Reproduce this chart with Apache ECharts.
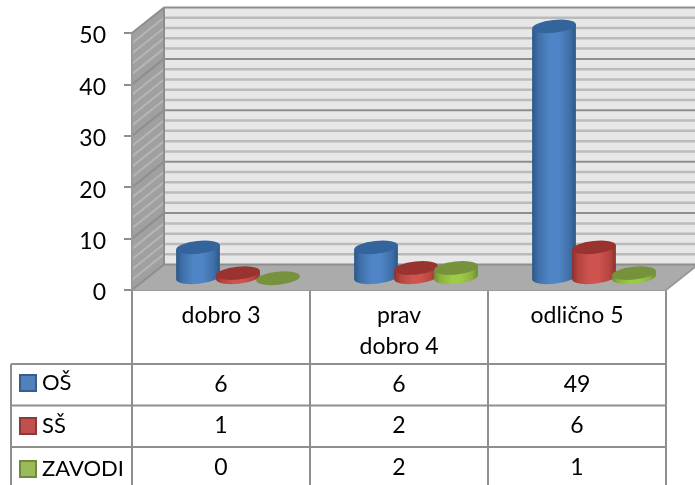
<!DOCTYPE html>
<html>
<head>
<meta charset="utf-8">
<style>html,body{margin:0;padding:0;background:#fff;overflow:hidden}#c{width:695px;height:485px}</style>
<script src="https://cdn.jsdelivr.net/npm/echarts@6/dist/echarts.min.js"></script>
</head>
<body>
<div id="c"></div>
<script>
const categories = ['dobro 3', 'prav\ndobro 4', 'odlično 5'];
const osValues = [6, 6, 49];
const ssValues = [1, 2, 6];
const zavodiValues = [0, 2, 1];
const seriesNames = ['OŠ', 'SŠ', 'ZAVODI'];
const yTicks = [0, 10, 20, 30, 40, 50];
const minorTicks = [2, 4, 6, 8, 12, 14, 16, 18, 22, 24, 26, 28, 32, 34, 36, 38, 42, 44, 46, 48];

const FONT = 'Lato, "Open Sans", sans-serif';
const FS = 23;
const GRID = { left: 132, right: 29, top: 33, bottom: 195 };
const DEPTH = [32, -25.5];
const TEXT = '#000';

const palettes = [
  { key: '#4F81BD', border: '#385D8A', top: '#33649B', stops: ['#2C5686', '#3F6FA8', '#4F85C6', '#4F85C6', '#3F6FA8', '#2C5686'] },
  { key: '#C0504D', border: '#8C3836', top: '#983330', stops: ['#8E2F2D', '#B5443F', '#CE5450', '#CE5450', '#B5443F', '#8E2F2D'] },
  { key: '#9BBB59', border: '#71893F', top: '#76923C', stops: ['#6C8C33', '#8BB03F', '#9CCB45', '#9CCB45', '#8BB03F', '#6C8C33'] }
];

function frameItem(params, api) {
  const L = api.coord([0, 0])[0] - api.size([1, 0])[0] / 2;
  const R = L + api.size([1, 0])[0] * 3;
  const y0 = api.coord([0, 0])[1];
  const y50 = api.coord([0, 50])[1];
  const dx = DEPTH[0], dy = DEPTH[1];
  const kids = [];
  kids.push({ type: 'polygon', shape: { points: [[L + dx, y50 + dy], [R + dx, y50 + dy], [R + dx, y0 + dy], [L + dx, y0 + dy]] }, style: { fill: '#E7E7E7' } });
  kids.push({ type: 'polygon', shape: { points: [[L, y50], [L + dx, y50 + dy], [L + dx, y0 + dy], [L, y0]] }, style: { fill: '#A0A0A0' } });
  kids.push({ type: 'polygon', shape: { points: [[L, y0], [L + dx, y0 + dy], [R + dx, y0 + dy], [R, y0]] }, style: { fill: '#ABABAB' } });
  minorTicks.forEach(function (v) {
    const y = api.coord([0, v])[1];
    kids.push({ type: 'line', shape: { x1: L + dx, y1: y + dy, x2: R + dx, y2: y + dy }, style: { stroke: '#BBBBBB', lineWidth: 2.5 } });
    kids.push({ type: 'line', shape: { x1: L, y1: y, x2: L + dx, y2: y + dy }, style: { stroke: '#B6B6B6', lineWidth: 2 } });
  });
  yTicks.forEach(function (v) {
    const y = api.coord([0, v])[1];
    kids.push({ type: 'line', shape: { x1: L + dx, y1: y + dy, x2: R + dx, y2: y + dy }, style: { stroke: '#8E8E8E', lineWidth: 2 } });
    kids.push({ type: 'line', shape: { x1: L, y1: y, x2: L + dx, y2: y + dy }, style: { stroke: '#8E8E8E', lineWidth: 2 } });
  });
  kids.push({ type: 'line', shape: { x1: L + dx, y1: y50 + dy, x2: L + dx, y2: y0 + dy }, style: { stroke: '#8E8E8E', lineWidth: 2 } });
  kids.push({ type: 'line', shape: { x1: L, y1: y50, x2: L, y2: y0 }, style: { stroke: '#9A9A9A', lineWidth: 2 } });
  kids.push({ type: 'line', shape: { x1: R, y1: y0, x2: R + dx, y2: y0 + dy }, style: { stroke: '#9A9A9A', lineWidth: 2 } });
  return { type: 'group', children: kids };
}

function cylinderRenderer(seriesIndex) {
  const p = palettes[seriesIndex];
  return function (params, api) {
    const base = api.coord([api.value(0), 0]);
    const top = api.coord([api.value(0), api.value(1)]);
    const band = api.size([1, 0])[0];
    const cx = base[0] + DEPTH[0] / 2 + 1 + (seriesIndex - 1) * band * 0.2247;
    const by = base[1] + DEPTH[1] / 2;
    const ty = top[1] + DEPTH[1] / 2 + 1;
    const a = band * 0.1236, b = 6.5, rot = -6;
    const ex = a * Math.cos(rot * Math.PI / 180), ey = a * Math.sin(rot * Math.PI / 180);
    const body = 'M' + (cx - ex) + ' ' + (ty - ey) + ' L' + (cx - ex) + ' ' + (by - ey) +
      ' A' + a + ' ' + b + ' ' + rot + ' 0 0 ' + (cx + ex) + ' ' + (by + ey) +
      ' L' + (cx + ex) + ' ' + (ty + ey) + ' Z';
    const cap = 'M' + (cx - ex) + ' ' + (ty - ey) +
      ' A' + a + ' ' + b + ' ' + rot + ' 0 0 ' + (cx + ex) + ' ' + (ty + ey) +
      ' A' + a + ' ' + b + ' ' + rot + ' 0 0 ' + (cx - ex) + ' ' + (ty - ey) + ' Z';
    const offs = [0, 0.14, 0.4, 0.6, 0.86, 1];
    return {
      type: 'group',
      children: [
        { type: 'path', shape: { pathData: body }, style: { fill: { type: 'linear', x: 0, y: 0, x2: 1, y2: 0, colorStops: p.stops.map(function (c, i) { return { offset: offs[i], color: c }; }) } } },
        { type: 'path', shape: { pathData: cap }, style: { fill: p.top } }
      ]
    };
  };
}

function makeSeries(name, values, i) {
  return {
    type: 'custom',
    name: name,
    coordinateSystem: 'cartesian2d',
    clip: false,
    z: 3 + i,
    itemStyle: { color: palettes[i].key, borderColor: palettes[i].border, borderWidth: 1 },
    encode: { x: 0, y: 1 },
    renderItem: cylinderRenderer(i),
    data: values.map(function (v, k) { return [k, v]; })
  };
}

const tableCols = [132, 310, 488, 666];
const tableRows = [364, 405.5, 447];
const tableBottom = 490;
const tableLeft = 11;
const tableLine = { stroke: '#8F8F8F', lineWidth: 2 };
const rowValues = [osValues, ssValues, zavodiValues];
const graphics = [];
tableCols.forEach(function (x) {
  graphics.push({ type: 'line', shape: { x1: x, y1: 291, x2: x, y2: tableBottom }, style: tableLine, z: 20 });
});
graphics.push({ type: 'line', shape: { x1: tableLeft, y1: tableRows[0], x2: tableLeft, y2: tableBottom }, style: tableLine, z: 20 });
tableRows.forEach(function (y) {
  graphics.push({ type: 'line', shape: { x1: tableLeft, y1: y, x2: tableCols[3], y2: y }, style: tableLine, z: 20 });
});
rowValues.forEach(function (vals, r) {
  vals.forEach(function (v, c) {
    graphics.push({
      type: 'text', z: 21,
      style: { text: String(v), x: (tableCols[c] + tableCols[c + 1]) / 2, y: tableRows[r] + 20.5, textAlign: 'center', textVerticalAlign: 'middle', font: FS + 'px ' + FONT, fill: TEXT }
    });
  });
});

const chart = echarts.init(document.getElementById('c'), null, { renderer: 'canvas' });
chart.setOption({
  animation: false,
  backgroundColor: '#fff',
  grid: GRID,
  legend: {
    data: seriesNames,
    orient: 'vertical',
    left: 19, top: 372, height: 200,
    itemWidth: 16, itemHeight: 16, itemGap: 21,
    icon: 'rect',
    selectedMode: false,
    padding: 0,
    textStyle: { fontFamily: FONT, fontSize: 22, color: TEXT, padding: [0, 0, 0, 1], lineHeight: 16 }
  },
  xAxis: {
    type: 'category',
    data: categories,
    axisLine: { show: true, lineStyle: { color: '#9A9A9A', width: 2 } },
    axisTick: { show: false },
    splitLine: { show: false },
    axisLabel: { color: TEXT, fontFamily: FONT, fontSize: FS, lineHeight: 31, margin: 10, interval: 0 }
  },
  yAxis: {
    type: 'value',
    min: 0, max: 50, interval: 10,
    axisLine: { show: false },
    axisTick: { show: true, length: 8, lineStyle: { color: '#8E8E8E', width: 2 } },
    splitLine: { show: false },
    axisLabel: { color: TEXT, fontFamily: FONT, fontSize: FS, margin: 26, verticalAlign: 'top', lineHeight: 6 }
  },
  graphic: graphics,
  series: [
    { type: 'custom', name: 'frame', coordinateSystem: 'cartesian2d', clip: false, z: 1, silent: true, renderItem: frameItem, data: [[0, 0]], encode: { x: 0, y: 1 } },
    makeSeries(seriesNames[0], osValues, 0),
    makeSeries(seriesNames[1], ssValues, 1),
    makeSeries(seriesNames[2], zavodiValues, 2)
  ]
});
</script>
</body>
</html>
